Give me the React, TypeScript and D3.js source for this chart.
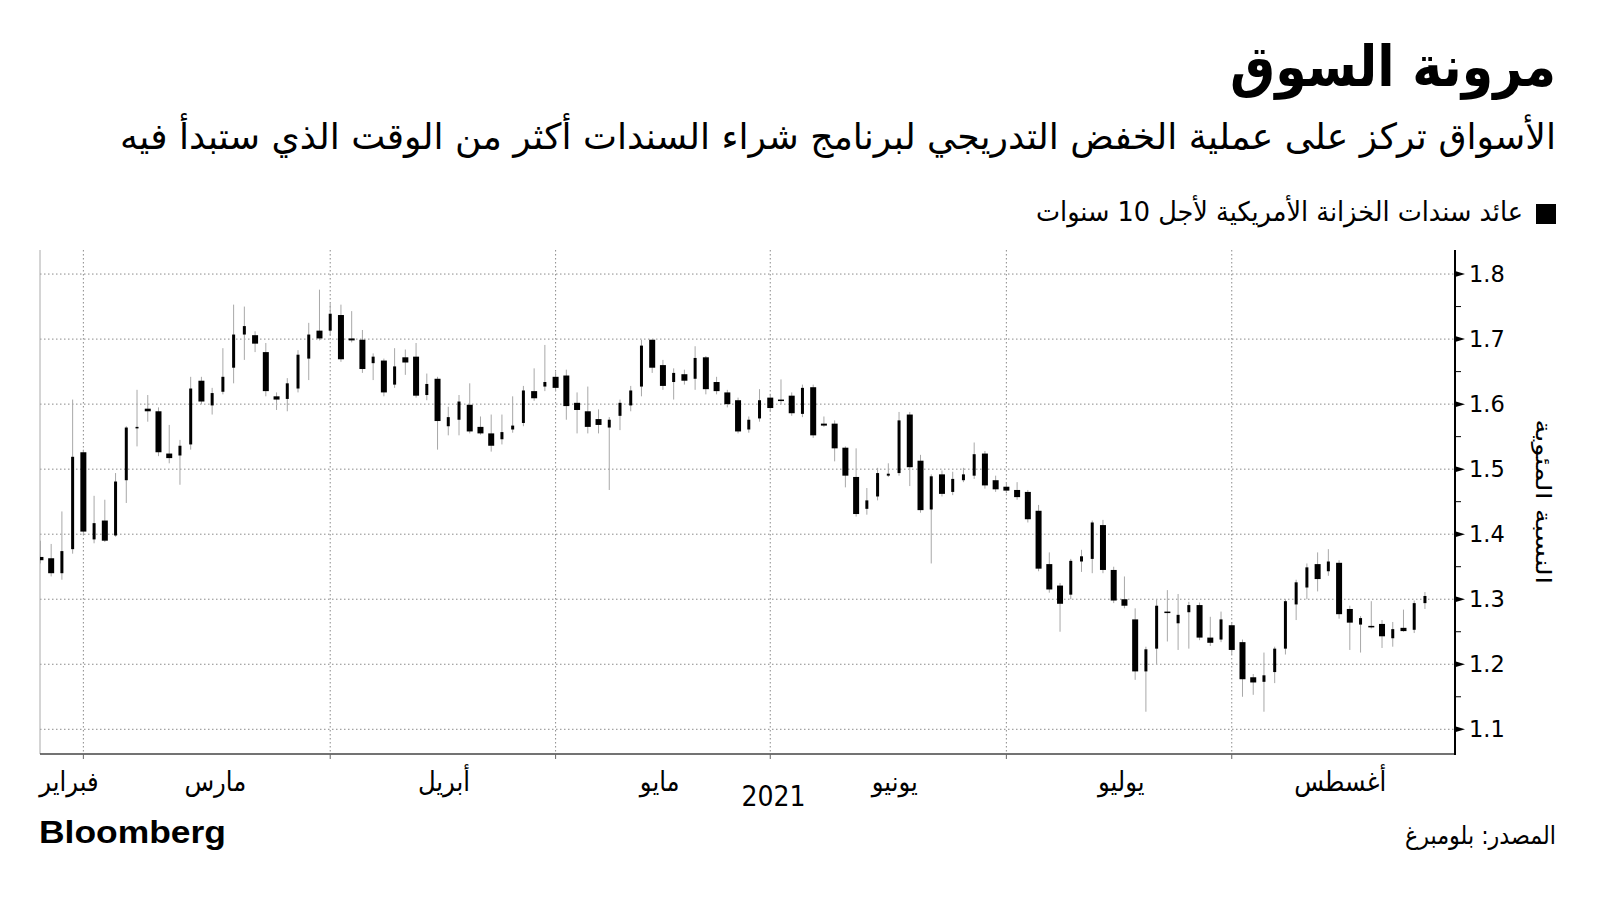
import React from 'react';
import * as d3 from 'd3';

// 10-year US Treasury yield, daily OHLC (index = trading day)
const openV = [1.365,1.363,1.340,1.377,1.526,1.392,1.421,1.398,1.483,1.563,1.593,1.589,1.524,1.521,1.538,1.636,1.598,1.619,1.656,1.707,1.706,1.680,1.612,1.608,1.624,1.670,1.713,1.713,1.737,1.701,1.699,1.663,1.667,1.630,1.672,1.673,1.614,1.639,1.566,1.576,1.599,1.565,1.555,1.546,1.561,1.571,1.620,1.627,1.642,1.644,1.602,1.589,1.577,1.564,1.582,1.598,1.627,1.699,1.660,1.634,1.646,1.639,1.672,1.634,1.618,1.606,1.561,1.578,1.610,1.607,1.613,1.585,1.626,1.570,1.570,1.533,1.488,1.439,1.458,1.490,1.494,1.584,1.513,1.438,1.492,1.465,1.483,1.490,1.524,1.483,1.473,1.468,1.465,1.436,1.354,1.321,1.307,1.358,1.362,1.414,1.345,1.300,1.269,1.189,1.224,1.281,1.263,1.280,1.291,1.241,1.238,1.260,1.234,1.180,1.173,1.188,1.224,1.292,1.318,1.354,1.343,1.356,1.285,1.261,1.259,1.262,1.240,1.256,1.253,1.294];
const highV = [1.390,1.385,1.435,1.607,1.530,1.459,1.453,1.494,1.566,1.622,1.614,1.595,1.568,1.545,1.642,1.642,1.625,1.686,1.753,1.750,1.712,1.694,1.618,1.640,1.683,1.725,1.776,1.755,1.753,1.743,1.714,1.678,1.670,1.686,1.684,1.694,1.647,1.642,1.596,1.614,1.632,1.581,1.584,1.584,1.612,1.628,1.655,1.691,1.650,1.653,1.618,1.627,1.592,1.580,1.607,1.628,1.699,1.699,1.668,1.655,1.653,1.689,1.674,1.642,1.622,1.610,1.581,1.623,1.616,1.638,1.618,1.630,1.630,1.581,1.575,1.535,1.532,1.471,1.502,1.509,1.588,1.588,1.522,1.492,1.498,1.496,1.502,1.541,1.528,1.490,1.480,1.480,1.468,1.445,1.372,1.325,1.362,1.376,1.421,1.422,1.350,1.335,1.286,1.227,1.299,1.314,1.308,1.296,1.295,1.273,1.281,1.265,1.238,1.185,1.218,1.227,1.300,1.330,1.355,1.372,1.377,1.360,1.290,1.274,1.297,1.268,1.265,1.284,1.298,1.311];
const lowV = [1.355,1.335,1.330,1.370,1.400,1.386,1.388,1.396,1.448,1.535,1.573,1.520,1.509,1.476,1.530,1.600,1.584,1.615,1.632,1.668,1.680,1.612,1.591,1.589,1.618,1.637,1.698,1.705,1.665,1.695,1.648,1.637,1.612,1.625,1.645,1.610,1.606,1.530,1.552,1.552,1.555,1.553,1.527,1.538,1.556,1.566,1.605,1.620,1.620,1.576,1.555,1.555,1.555,1.468,1.560,1.589,1.612,1.648,1.622,1.607,1.630,1.622,1.615,1.615,1.595,1.555,1.556,1.573,1.588,1.600,1.582,1.580,1.548,1.565,1.512,1.472,1.427,1.430,1.452,1.488,1.490,1.474,1.433,1.355,1.458,1.460,1.480,1.485,1.470,1.465,1.463,1.453,1.418,1.343,1.310,1.250,1.300,1.342,1.340,1.340,1.294,1.286,1.176,1.127,1.200,1.235,1.222,1.224,1.237,1.228,1.234,1.215,1.150,1.153,1.127,1.171,1.215,1.268,1.300,1.312,1.336,1.270,1.222,1.218,1.255,1.225,1.227,1.250,1.248,1.285];
const closeV = [1.360,1.340,1.374,1.519,1.404,1.417,1.390,1.481,1.564,1.565,1.589,1.526,1.517,1.536,1.624,1.604,1.617,1.642,1.707,1.720,1.693,1.620,1.607,1.632,1.676,1.707,1.701,1.739,1.669,1.698,1.654,1.673,1.618,1.658,1.664,1.613,1.631,1.574,1.580,1.604,1.558,1.555,1.536,1.557,1.567,1.621,1.609,1.634,1.625,1.597,1.591,1.565,1.568,1.576,1.602,1.621,1.690,1.656,1.628,1.648,1.636,1.671,1.623,1.620,1.600,1.558,1.576,1.606,1.594,1.606,1.586,1.625,1.552,1.567,1.532,1.490,1.431,1.452,1.494,1.493,1.575,1.503,1.437,1.489,1.462,1.485,1.492,1.523,1.475,1.469,1.467,1.457,1.423,1.347,1.315,1.293,1.359,1.366,1.418,1.345,1.298,1.290,1.189,1.223,1.290,1.279,1.276,1.291,1.241,1.233,1.269,1.222,1.177,1.172,1.183,1.224,1.297,1.326,1.349,1.331,1.358,1.277,1.264,1.271,1.258,1.243,1.254,1.251,1.294,1.305];

const monthTickIdx = [4, 27, 48, 68, 90, 111];
const monthLabels = ['فبراير', 'مارس', 'أبريل', 'مايو', 'يونيو', 'يوليو', 'أغسطس'];
const monthLabelIdx = [2.66, 16.3, 37.6, 57.7, 79.6, 100.7, 121.1];
const yearLabel = '2021';
const yearLabelIdx = 68.3;
const yTicks = [1.1, 1.2, 1.3, 1.4, 1.5, 1.6, 1.7, 1.8];
const yMinorTicks = [1.15, 1.25, 1.35, 1.45, 1.55, 1.65, 1.75];

const title = 'مرونة السوق';
const subtitle = 'الأسواق تركز على عملية الخفض التدريجي لبرنامج شراء السندات أكثر من الوقت الذي ستبدأ فيه';
const legendText = 'عائد سندات الخزانة الأمريكية لأجل 10 سنوات';
const yAxisTitle = 'النسبة المئوية';
const sourceText = 'المصدر: بلومبرغ';

const AR = "'DejaVu Sans Condensed', 'DejaVu Sans', sans-serif";

export default function App() {
  const W = 1600, H = 900;
  const left = 40, right = 1455, top = 250, bottom = 754;
  const x = d3.scaleLinear().domain([-0.04, 131.8]).range([left, right]);
  const y = d3.scaleLinear().domain([1.062, 1.837]).range([bottom, top]);
  const data = openV.map((o, i) => ({ i, o, h: highV[i], l: lowV[i], c: closeV[i] }));

  return (
    <svg width={W} height={H} style={{ position: 'absolute', left: 0, top: 0, background: '#fff' }}>
      <rect x={0} y={0} width={W} height={H} fill="#fff" />
      {/* Title */}
      <text x={1556} y={86} textAnchor="end" fontFamily={AR} fontWeight="bold" fontSize={56}
        textLength={326} lengthAdjust="spacingAndGlyphs" fill="#000">{title}</text>
      <text x={1556} y={149} textAnchor="end" fontFamily={AR} fontSize={36}
        textLength={1436} lengthAdjust="spacingAndGlyphs" fill="#000">{subtitle}</text>
      {/* Legend */}
      <rect x={1536} y={204} width={20} height={20} fill="#000" />
      <text x={1523} y={221} textAnchor="end" fontFamily={AR} fontSize={27}
        textLength={487} lengthAdjust="spacingAndGlyphs" fill="#000">{legendText}</text>

      {/* Grid */}
      {yTicks.map(t => (
        <line key={'hg' + t} x1={left} x2={right} y1={y(t)} y2={y(t)} stroke="#8a8a8a" strokeWidth={1} strokeDasharray="1.5,2.5" />
      ))}
      {monthTickIdx.map(t => (
        <line key={'vg' + t} x1={x(t)} x2={x(t)} y1={top} y2={bottom} stroke="#8a8a8a" strokeWidth={1} strokeDasharray="1.5,2.5" />
      ))}
      {/* left frame */}
      <line x1={left} x2={left} y1={top} y2={bottom} stroke="#aaa" strokeWidth={1} />

      {/* Candles */}
      <g clipPath="url(#plotclip)">
        {data.map(d => {
          const up = d.c >= d.o;
          const cx = x(d.i);
          const yt = y(Math.max(d.o, d.c));
          const yb = y(Math.min(d.o, d.c));
          const bw = up ? 3 : 6;
          return (
            <g key={d.i}>
              <line x1={cx} x2={cx} y1={y(d.h)} y2={y(d.l)} stroke="#a8a8a8" strokeWidth={1} />
              <rect x={cx - bw / 2} y={yt} width={bw} height={Math.max(1.5, yb - yt)} fill="#000" />
            </g>
          );
        })}
      </g>
      <defs>
        <clipPath id="plotclip">
          <rect x={left} y={top} width={right - left} height={bottom - top} />
        </clipPath>
      </defs>

      {/* Bottom axis */}
      <line x1={left} x2={right} y1={bottom} y2={bottom} stroke="#444" strokeWidth={1.5} />
      {monthTickIdx.map(t => (
        <line key={'bt' + t} x1={x(t)} x2={x(t)} y1={bottom} y2={bottom + 5} stroke="#666" strokeWidth={1} />
      ))}
      {monthLabels.map((m, k) => (
        <text key={m} x={x(monthLabelIdx[k])} y={791} textAnchor="middle" fontFamily={AR} fontSize={27} fill="#000">{m}</text>
      ))}
      <text x={x(yearLabelIdx)} y={806} textAnchor="middle" fontFamily={AR} fontSize={28} fill="#000">{yearLabel}</text>

      {/* Right axis */}
      <line x1={right} x2={right} y1={top} y2={bottom + 1} stroke="#000" strokeWidth={2} />
      {yMinorTicks.map(t => (
        <line key={'mt' + t} x1={right} x2={right + 6} y1={y(t)} y2={y(t)} stroke="#000" strokeWidth={1} />
      ))}
      {yTicks.map(t => (
        <g key={'yt' + t}>
          <path d={`M${right},${y(t) - 3} L${right + 10},${y(t)} L${right},${y(t) + 3} Z`} fill="#000" />
          <text x={1469} y={y(t)} dy="0.36em" fontFamily="'DejaVu Sans', sans-serif" fontSize={22.5} fill="#000">{t.toFixed(1)}</text>
        </g>
      ))}
      <text transform={`translate(1543,${y(1.45)}) rotate(90)`} textAnchor="middle" dy="0.35em"
        fontFamily="'DejaVu Sans', sans-serif" fontSize={21} textLength={165} lengthAdjust="spacingAndGlyphs" fill="#000">{yAxisTitle}</text>

      {/* Footer */}
      <text x={39} y={843} fontFamily="'Liberation Sans', Arial, sans-serif" fontWeight="bold" fontSize={31}
        textLength={187} lengthAdjust="spacingAndGlyphs" fill="#000">Bloomberg</text>
      <text x={1556} y={844} textAnchor="end" fontFamily={AR} fontSize={25}
        textLength={151} lengthAdjust="spacingAndGlyphs" fill="#000">{sourceText}</text>
    </svg>
  );
}
